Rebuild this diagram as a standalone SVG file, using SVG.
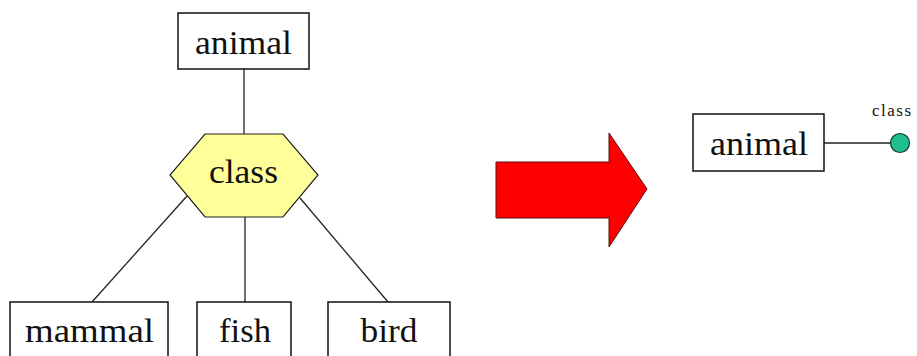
<svg xmlns="http://www.w3.org/2000/svg" width="917" height="356" viewBox="0 0 917 356">
  <style>
    .box { fill: #ffffff; stroke: #111111; stroke-width: 1.5; }
    .hex { fill: #ffff99; stroke: #222222; stroke-width: 1.2; }
    .edge { stroke: #222222; stroke-width: 1.3; fill: none; }
    .lbl { font-family: "Liberation Serif", "Times New Roman", serif; font-size: 34px; fill: #111111; text-anchor: middle; }
    .small { font-family: "Liberation Serif", "Times New Roman", serif; font-size: 17px; fill: #111111; letter-spacing: 1.5px; }
  </style>
  <rect x="0" y="0" width="917" height="356" fill="#ffffff"/>

  <g id="connectors">
    <line class="edge" x1="244" y1="69" x2="244" y2="134"/>
    <line class="edge" x1="187" y1="196" x2="92" y2="302"/>
    <line class="edge" x1="245" y1="217" x2="245" y2="302"/>
    <line class="edge" x1="300" y1="198" x2="388" y2="302"/>
    <line class="edge" x1="824" y1="143" x2="891" y2="143"/>
  </g>

  <g id="animal">
    <rect class="box" x="178" y="13" width="131" height="56"/>
    <text class="lbl" x="243.5" y="54" textLength="97" lengthAdjust="spacingAndGlyphs">animal</text>
  </g>

  <g id="class">
    <polygon class="hex" points="205,134 283,134 318,175 283,217 205,217 170,175"/>
    <text class="lbl" x="243.5" y="183" font-size="30" textLength="69" lengthAdjust="spacingAndGlyphs">class</text>
  </g>

  <g id="mammal">
    <rect class="box" x="10" y="302" width="158" height="60"/>
    <text class="lbl" x="89.5" y="342" textLength="129" lengthAdjust="spacingAndGlyphs">mammal</text>
  </g>

  <g id="fish">
    <rect class="box" x="197" y="302" width="94" height="60"/>
    <text class="lbl" x="245" y="342" textLength="52" lengthAdjust="spacingAndGlyphs">fish</text>
  </g>

  <g id="bird">
    <rect class="box" x="328" y="302" width="122" height="60"/>
    <text class="lbl" x="389" y="342" textLength="57" lengthAdjust="spacingAndGlyphs">bird</text>
  </g>

  <g id="transform-arrow">
    <polygon points="496,162 609,162 609,133 647,189 609,247 609,218 496,218" fill="#ff0000" stroke="#5a1010" stroke-width="1"/>
  </g>

  <g id="animal-compact">
    <rect class="box" x="693" y="114" width="131" height="57"/>
    <text class="lbl" x="759" y="155" textLength="98" lengthAdjust="spacingAndGlyphs">animal</text>
  </g>

  <g id="class-attribute">
    <circle cx="900" cy="143" r="9.5" fill="#1fbf8f" stroke="#1a3a2a" stroke-width="1.2"/>
    <text class="small" x="872" y="116">class</text>
  </g>
</svg>
